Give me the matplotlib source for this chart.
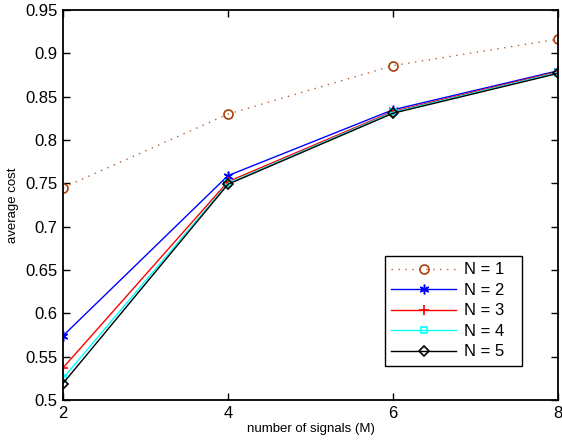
import matplotlib
matplotlib.use("Agg")
import matplotlib.pyplot as plt

plt.rcParams['font.family'] = ['Liberation Sans', 'DejaVu Sans']

M = [2, 4, 6, 8]
n1 = [0.745, 0.830, 0.886, 0.9165]
n2 = [0.574, 0.759, 0.835, 0.880]
n3 = [0.537, 0.752, 0.833, 0.879]
n4 = [0.525, 0.750, 0.832, 0.878]
n5 = [0.519, 0.749, 0.831, 0.877]
labels = ['N = 1', 'N = 2', 'N = 3', 'N = 4', 'N = 5']

fig = plt.figure(figsize=(5.62, 4.41), dpi=100)
ax = fig.add_axes([0.112, 0.093, 0.881, 0.884])

ax.plot(M, n1, linestyle=(0, (1, 4)), color='#b8622e', marker='o', markersize=6.5,
        markerfacecolor='none', markeredgecolor='#a8400c', markeredgewidth=1.2,
        linewidth=1.0, label=labels[0])
ax.plot(M, n2, linestyle='-', color='#0000ff', marker=(6, 2, 0), markersize=7,
        markeredgewidth=1.1, label=labels[1], linewidth=1.0)
ax.plot(M, n3, linestyle='-', color='#ff0000', marker='+', markersize=7,
        markeredgewidth=1.2, label=labels[2], linewidth=1.0)
ax.plot(M, n4, linestyle='-', color='#00ffff', marker='s', markersize=5,
        markerfacecolor='none', markeredgewidth=1.2, label=labels[3], linewidth=1.0)
ax.plot(M, n5, linestyle='-', color='#000000', marker='D', markersize=5.5,
        markerfacecolor='none', markeredgewidth=1.2, label=labels[4], linewidth=1.0)

ax.set_xlim(2, 8)
ax.set_ylim(0.5, 0.95)
ax.set_xticks([2, 4, 6, 8])
ax.set_yticks([0.5, 0.55, 0.6, 0.65, 0.7, 0.75, 0.8, 0.85, 0.9, 0.95])
ax.set_yticklabels(['0.5', '0.55', '0.6', '0.65', '0.7', '0.75', '0.8', '0.85', '0.9', '0.95'])
ax.tick_params(direction='in', top=True, right=True, labelsize=12, length=5, width=1, pad=4)
for s in ax.spines.values():
    s.set_linewidth(1.3)
ax.set_xlabel('number of signals (M)', fontsize=9.5, labelpad=2)
ax.set_ylabel('average cost', fontsize=9.5, labelpad=4)

leg = ax.legend(loc='lower left', bbox_to_anchor=(0.65, 0.087, 0.277, 0.287),
                mode='expand', borderaxespad=0, fontsize=12, fancybox=False,
                framealpha=1, edgecolor='black', handlelength=3.9,
                handletextpad=0.45, borderpad=0.4, labelspacing=0.33)
leg.get_frame().set_linewidth(1.0)

fig.savefig('out.png', dpi=100)
